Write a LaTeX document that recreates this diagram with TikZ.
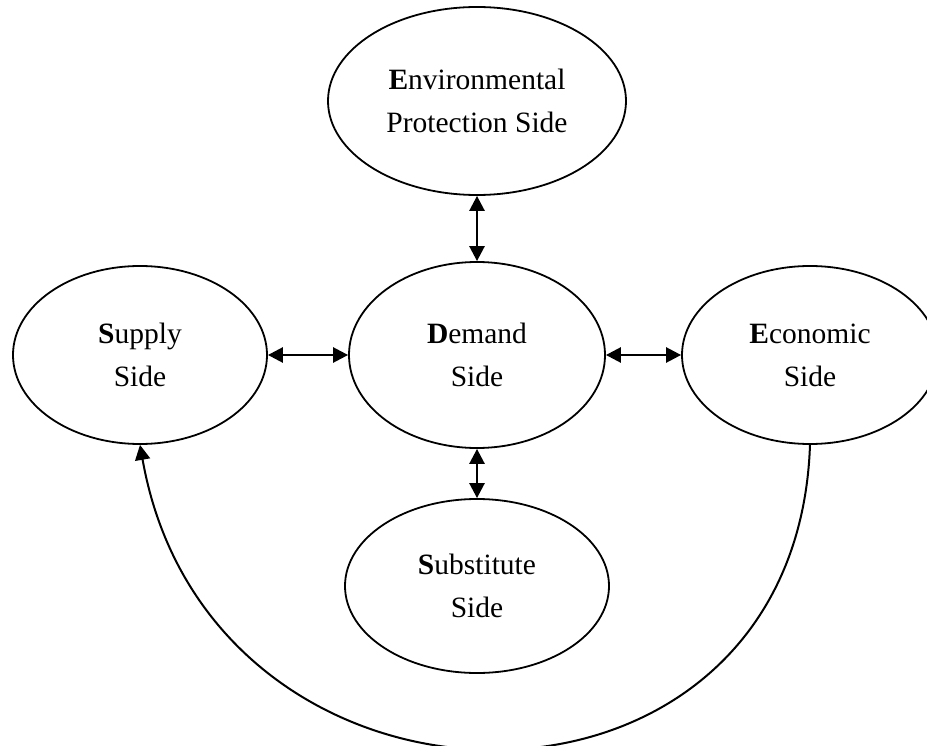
\documentclass[tikz,border=0pt]{standalone}
\usepackage{fontspec}
\setmainfont{Liberation Serif}
\usepackage{tikz}
\usetikzlibrary{arrows.meta, shapes.geometric}

\begin{document}
\begin{tikzpicture}[x=1pt, y=-1pt,
    side/.style={ellipse, draw, line width=1.8pt, inner sep=0pt, align=center,
      font=\fontsize{29.5}{43}\selectfont},
    link/.style={line width=2.6pt, arrows={Triangle[length=15pt, width=15pt]-Triangle[length=15pt, width=15pt]}}]
      \useasboundingbox (0, 0) rectangle (927, 746);

      % Draw the five sides.
      \node [side, minimum width=298pt, minimum height=188pt] (env) at (477, 101) {\textbf{E}nvironmental\\Protection Side};
      \node [side, minimum width=254pt, minimum height=178pt] (sup) at (140, 355) {\textbf{S}upply\\Side};
      \node [side, minimum width=256pt, minimum height=186pt] (dem) at (477, 355) {\textbf{D}emand\\Side};
      \node [side, minimum width=256pt, minimum height=178pt] (eco) at (810, 355) {\textbf{E}conomic\\Side};
      \node [side, minimum width=264pt, minimum height=174pt] (subs) at (477, 586) {\textbf{S}ubstitute\\Side};

      % Draw links to the demand side.
      \draw [link] (env.south) -- (dem.north);
      \draw [link] (sup.east) -- (dem.west);
      \draw [link] (dem.east) -- (eco.west);
      \draw [link] (dem.south) -- (subs.north);

      % Draw economic to supply.
      \draw [line width=2pt, arrows={-Triangle[length=15pt, width=15pt]}] (eco.south) to[out=-92, in=-80, looseness=1.56] (sup.south);
    \end{tikzpicture}
\end{document}
